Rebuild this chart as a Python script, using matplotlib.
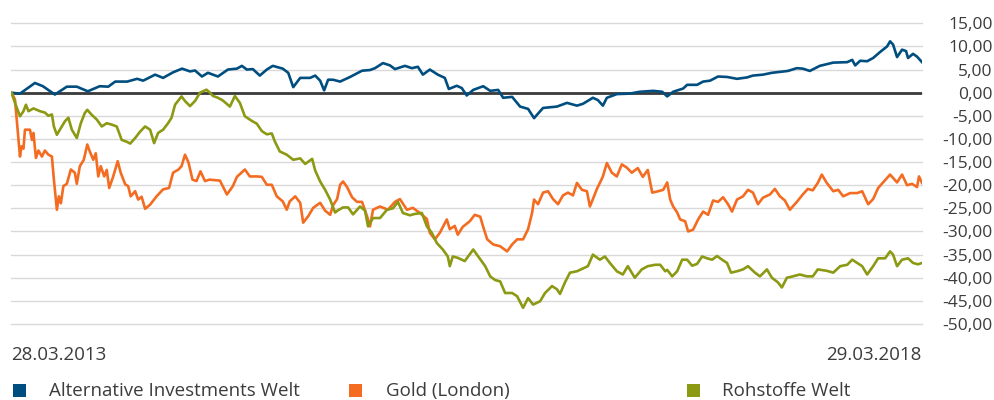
import matplotlib
matplotlib.use("Agg")
import matplotlib.pyplot as plt
from matplotlib.patches import Rectangle
import numpy as np

# ---------------- data ----------------
start_label = "28.03.2013"
end_label = "29.03.2018"
total_days = 1827  # days between the two dates

series_names = ["Alternative Investments Welt", "Gold (London)", "Rohstoffe Welt"]
series_colors = ["#004e7f", "#f36c21", "#8c9912"]

y_ticks = [15, 10, 5, 0, -5, -10, -15, -20, -25, -30, -35, -40, -45, -50]

ai_days = [0, 18, 48, 64, 88, 112, 132, 154, 178, 195, 209, 233, 253, 265, 289, 305, 325, 343, 359, 369,
           383, 395, 415, 435, 453, 463, 473, 485, 499, 513, 525, 545, 556, 566, 580, 600, 610, 620, 628, 636,
           646, 660, 680, 704, 720, 730, 746, 760, 770, 790, 804, 816, 826, 840, 856, 870, 878, 894, 904, 914,
           927, 947, 961, 977, 987, 1005, 1021, 1037, 1049, 1067, 1095, 1115, 1135, 1147, 1167, 1177, 1187, 1195,
           1215, 1241, 1261, 1288, 1306, 1316, 1328, 1348, 1356, 1376, 1388, 1402, 1418, 1436, 1456, 1476, 1488,
           1508, 1526, 1542, 1558, 1576, 1588, 1602, 1622, 1649, 1677, 1687, 1693, 1703, 1717, 1729, 1743, 1757,
           1763, 1769, 1777, 1787, 1795, 1799, 1809, 1817, 1827]
ai_vals = [0, -0.2, 2.1, 1.4, -0.4, 1.3, 1.3, 0.3, 1.4, 1.3, 2.4, 2.4, 3.0, 2.6, 3.9, 3.2, 4.4, 5.2, 4.6, 4.8,
           3.5, 4.3, 3.5, 5.0, 5.2, 5.8, 5.0, 5.1, 3.7, 5.0, 5.8, 5.2, 4.3, 1.2, 3.2, 3.2, 3.7, 2.6, 0.5, 2.8,
           2.8, 2.4, 3.4, 4.75, 4.9, 5.3, 6.4, 5.9, 5.1, 5.8, 5.3, 5.6, 3.9, 5.0, 3.9, 3.2, 0.8, 1.5, 1.0, -0.6,
           0.6, 1.4, 0.4, 0.6, -1.1, -0.9, -3.0, -3.5, -5.5, -3.3, -3.0, -2.2, -2.8, -2.4, -1.1, -1.6, -2.8, -1.1,
           -0.3, -0.2, 0.2, 0.4, 0.2, -0.8, 0.2, 0.9, 1.7, 1.7, 2.4, 2.6, 3.5, 3.4, 3.0, 3.3, 3.7,
           3.9, 4.3, 4.5, 4.7, 5.3, 5.2, 4.7, 5.8, 6.5, 6.6, 7.1, 5.9, 6.9, 6.8, 7.5, 8.8, 10.0,
           11.1, 10.4, 7.7, 9.3, 9.0, 7.5, 8.4, 7.8, 6.6]

gold_days = [0, 1, 8, 18, 21, 25, 28, 38, 42, 45, 50, 55, 62, 68, 75, 82, 86, 92, 96, 100, 105, 112, 120, 128,
             132, 138, 146, 153, 158, 165, 170, 175, 180, 187, 192, 197, 205, 214, 220, 229, 235, 240, 249, 255,
             262, 269, 279, 292, 305, 317, 325, 336, 342, 349, 356, 364, 372, 380, 389, 398,
             419, 433, 445, 453, 469, 479, 493, 503, 513,
             523, 533, 545, 553, 559, 570, 580, 586, 596, 606, 620, 630, 640, 646, 654, 660, 666, 674, 684, 694,
             704, 714, 720, 726, 740, 756, 770, 780, 794, 806, 820, 834, 840, 850, 860, 874, 880, 890, 896, 906,
             920, 930, 941, 947, 955, 967, 981, 995, 1005, 1015, 1027, 1037, 1045, 1049, 1057, 1067, 1077, 1087,
             1097, 1107, 1117, 1127, 1135, 1145, 1155, 1161, 1167, 1175, 1181, 1187, 1195, 1205, 1215, 1225, 1235,
             1245, 1257, 1267, 1277, 1286, 1298, 1308, 1316, 1322, 1328, 1336, 1342, 1352, 1358, 1368, 1378, 1388,
             1398, 1408, 1418, 1428, 1438, 1446, 1456, 1468, 1478, 1488, 1498, 1508, 1522, 1532, 1542, 1552, 1562,
             1576, 1588, 1598, 1608, 1618, 1626, 1636, 1649, 1659, 1669, 1683, 1697, 1707, 1719, 1729, 1739, 1749,
             1763, 1777, 1787, 1797, 1807, 1817, 1821, 1827]
gold_vals = [0, 0, -1.5, -13.8, -11.6, -12.1, -8.0, -8.0, -10.2, -8.7, -14.1, -12.5, -13.8, -12.5, -13.4, -13.8,
             -18.8, -25.3, -22.4, -23.9, -20.2, -19.7, -16.6, -17.3, -19.7, -15.9, -14.5, -11.2, -12.7, -14.5,
             -13.1, -18.1, -15.9, -18.1, -16.7, -20.6, -18.1, -14.8, -17.3, -19.8, -20.2, -22.4, -21.3, -23.1,
             -22.5, -25.1, -24.2, -22.4, -20.9, -20.6, -17.3, -16.6, -15.9, -13.4, -15.1, -18.8, -19.1, -17.0,
             -19.1, -18.8,
             -19, -22, -20.2, -18.2, -16.6, -18.1, -18.1, -18.2, -19.9,
             -19.9, -22.4, -23.5, -25.3, -23.5, -22.4, -23.8, -28.1, -26.7, -24.9, -23.8, -25.5, -26.4,
             -24.3, -23, -19.9, -19.2, -20.4, -22.6, -23.6, -23.6, -26.7, -28.9, -25.3, -24.6, -25.3, -23.6, -23,
             -25.3, -24.9, -26, -27.3, -30.3, -31.7, -30.3, -27.4, -29.5, -28.8, -30.7, -29, -27.8, -26.4, -26.8,
             -29, -31.7, -32.8, -33.2, -34.3, -32.8, -31.7, -31.7, -29.5, -26, -23.1, -24.1, -21.6, -21.3, -23,
             -24.1, -22.2, -21.6, -22.2, -19.5, -21, -21.3, -24.6, -23, -20.8, -19.5, -18.1, -15.2, -17.3, -18.1,
             -15.5, -16.2, -17.3, -16.3, -18.2, -16.7, -21.6, -21.3, -21, -19.4, -23.1, -24.6, -25.9, -27.4,
             -27.8, -30, -29.6, -27.4, -25.7, -26.4, -23.3, -23.6, -22.6, -24.1, -25.7, -23.1, -22.4, -21, -21.6,
             -24.1, -22.7, -22, -20.8, -22.4, -23.3, -25.3, -23.6, -22, -20.8, -21.1, -19.5, -17.7, -19.5, -21.3,
             -21, -22.4, -21.7, -21.7, -21.3, -24.1, -23, -20.6, -19.4, -17.7, -19.4, -17.7, -20, -19.7, -20.4,
             -18.1, -19.5]

com_days = [0, 1, 8, 18, 25, 30, 35, 45, 58, 68, 75, 82, 86, 92, 98, 108, 115, 122, 132, 140, 148, 153, 162,
            172, 182, 192, 202, 212, 222, 232, 239, 249, 259, 269, 279, 287, 295, 305, 315, 322, 329, 342, 349,
            359, 369, 379, 392, 399,
            405, 415, 425, 439, 449, 459, 469, 483, 493, 503, 513, 523, 529, 539, 553, 566, 580, 590,
            604, 610, 620, 630, 640, 650, 656, 666, 676, 686, 700, 710, 716, 726, 740, 754, 766, 776, 786, 800,
            810, 824, 834, 844, 854, 866, 876, 880, 886, 896, 910, 927, 937, 951, 961, 971, 981, 991, 1005, 1015,
            1027, 1037, 1047, 1061, 1071, 1085, 1095, 1101, 1111, 1121, 1135, 1147, 1157, 1167, 1181, 1191, 1201,
            1215, 1227, 1237, 1251, 1265, 1277, 1292, 1302, 1312, 1316, 1326, 1336, 1346, 1356, 1366, 1376, 1386,
            1396, 1406, 1416, 1426, 1436, 1444, 1456, 1468, 1478, 1492, 1502, 1516, 1526, 1538, 1546, 1556, 1568,
            1582, 1596, 1608, 1618, 1636, 1649, 1663, 1677, 1687, 1697, 1707, 1717, 1729, 1739, 1753, 1763, 1769,
            1777, 1787, 1799, 1809, 1819, 1827]
com_vals = [0, 0, -2.2, -5.1, -4.0, -2.6, -4.0, -3.4, -4.0, -4.3, -5.0, -4.7, -7.3, -9.1, -8.0, -6.2, -5.4,
            -8.0, -9.8, -6.6, -4.4, -3.7, -4.8, -5.8, -7.3, -6.6, -6.9, -7.3, -10.2, -10.6, -11.0, -9.8, -8.4,
            -7.3, -8.0, -10.9, -8.7, -8.0, -6.6, -5.4, -2.6, -0.8, -1.8, -2.9, -1.8, 0, 0.65, 0,
            -0.7, -1.1, -1.7, -3.0, -0.7, -2.2, -5.1,
            -6.1, -6.7, -8.3, -9.0, -8.8, -10.5, -12.7, -13.4, -14.5, -14.2, -15.4, -14.3, -16.8, -19.2, -21,
            -23.1, -25.9, -25.4, -24.8, -24.8, -26.3, -24.6, -25.5, -28.9, -27.1, -27.1, -25.3, -25, -23.6, -26,
            -26.5, -26.2, -26, -28.9, -30.3, -32.5, -33.9, -35.4, -37.5, -35.4, -35.7, -36.4, -33.9, -35.4, -37.5,
            -39.7, -40.5, -40.8, -43.3, -43.3, -44.0, -46.5, -44.4, -45.8, -45.1, -43.3, -41.8, -42.5, -43.5, -41,
            -38.9, -38.6, -38, -37.5, -35, -36.1, -35.4, -36.8, -38.6, -39.3, -37.5, -40, -38.2, -37.5, -37.2,
            -37.2, -38.6, -38.3, -39.7, -38.6, -36.1, -36.1, -37.4, -37.0, -35.4, -35.8, -36.1, -35.3, -36.1,
            -36.8, -38.9, -38.6, -38.2, -37.5, -38.9, -39.7, -38.2, -40, -41, -42.1, -40, -39.7, -39.3, -39.7,
            -39.7, -38.2, -38.5, -38.9, -37.5, -37.2, -36.1, -36.8, -37.5, -39.3, -37.5, -35.8, -35.8, -34.3, -35,
            -37.5, -36.1, -35.8, -36.8, -37.1, -36.8]

# ---------------- figure ----------------
W, H = 995, 400
fig = plt.figure(figsize=(W / 100, H / 100), dpi=100)
fig.patch.set_facecolor("white")
FONT = "Open Sans"
TXT = "#3c3c3c"

ax = fig.add_axes([11 / W, 1 - 324 / H, 911 / W, (324 - 23.3) / H])
ax.set_xlim(0, total_days)
ax.set_ylim(-50, 15)

for d, v, c in zip([ai_days, gold_days, com_days], [ai_vals, gold_vals, com_vals], series_colors):
    ax.plot(d, v, color=c, lw=1.9, solid_joinstyle="round", zorder=3)

ax.axhline(0, color="#3a3a3a", lw=2.0, zorder=2)

ax.set_yticks(y_ticks)
ax.set_yticklabels([f"{t:.2f}".replace(".", ",") for t in y_ticks])
ax.yaxis.tick_right()
ax.tick_params(axis="y", length=0, pad=51, labelsize=12.5, labelcolor=TXT)
for lab in ax.get_yticklabels():
    lab.set_horizontalalignment("right")
    lab.set_fontfamily(FONT)
ax.set_xticks([])
ax.grid(axis="y", color="#d9d9d9", lw=1.0, zorder=0)
for gl in ax.get_ygridlines():
    gl.set_clip_on(False)
for s in ax.spines.values():
    s.set_visible(False)

# date labels at the ends of the axis
fig.text(11 / W, 1 - 355 / H, start_label, ha="left", va="center", fontsize=13.5, color=TXT, family=FONT)
fig.text(922 / W, 1 - 355 / H, end_label, ha="right", va="center", fontsize=13.5, color=TXT, family=FONT)

# legend
leg_sq_x = [13, 349, 687]
leg_tx_x = [49, 386, 722]
for name, c, sx, tx in zip(series_names, series_colors, leg_sq_x, leg_tx_x):
    fig.add_artist(Rectangle((sx / W, 1 - 397 / H), 13 / W, 13 / H, transform=fig.transFigure,
                             facecolor=c, edgecolor="none"))
    fig.text(tx / W, 1 - 391 / H, name, ha="left", va="center", fontsize=13.5, color=TXT, family=FONT)

fig.savefig("out.png", dpi=100, facecolor="white")
